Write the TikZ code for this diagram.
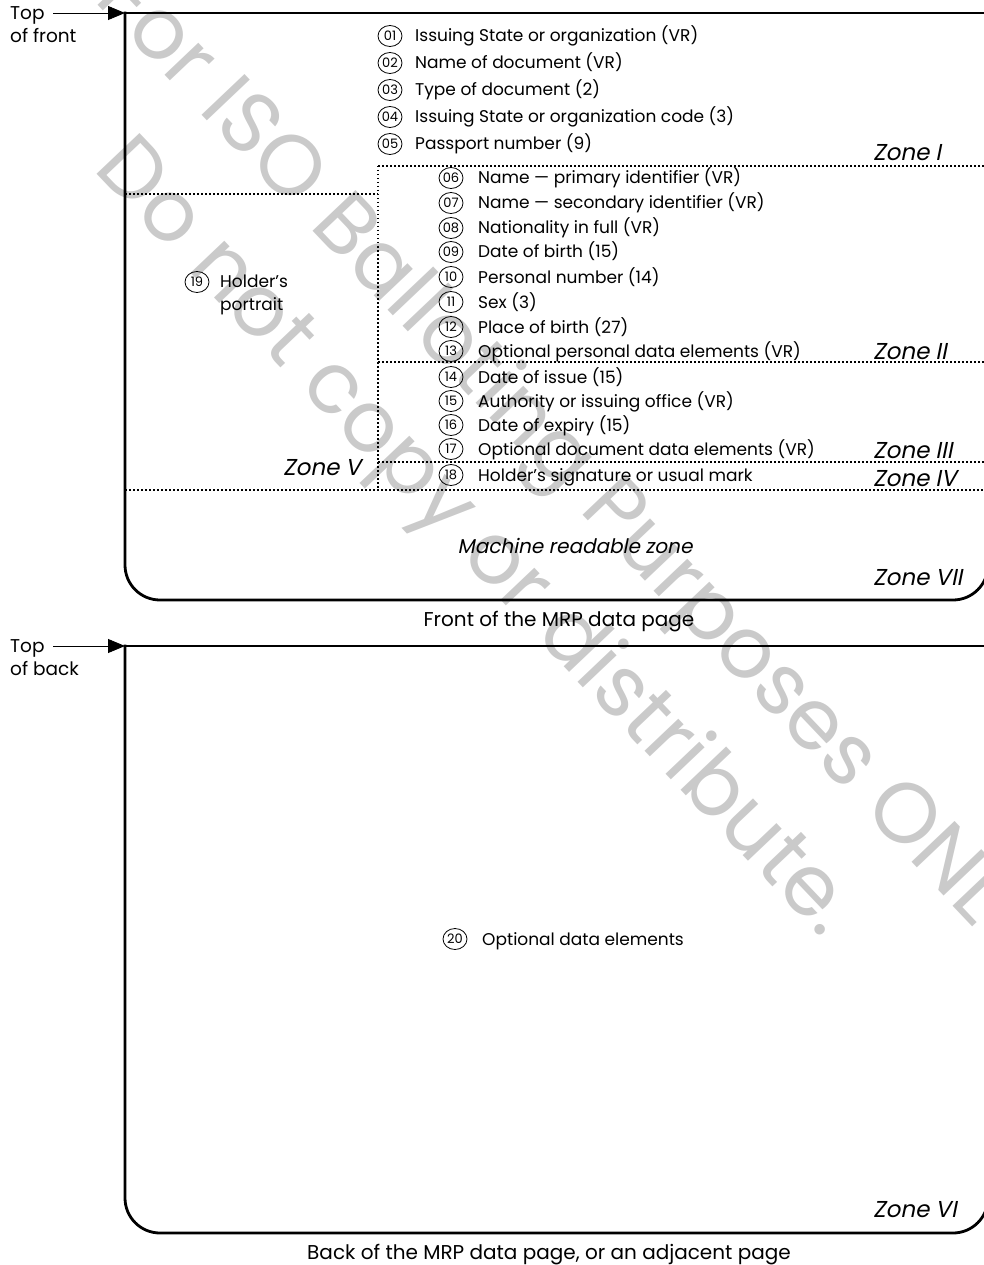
\documentclass[tikz,border=0pt]{standalone}
\usepackage{fontspec}
\setmainfont{Poppins}
\newfontfamily\zonefont{Poppins}[FakeSlant=0.2]
\usetikzlibrary{shapes.geometric,arrows.meta}
\definecolor{wmgray}{RGB}{202,202,202}
\begin{document}
\begin{tikzpicture}[x=1pt,y=-1pt,
 pageframe/.style={line width=2.8pt, line cap=rect, line join=miter},
 zoneline/.style={line width=1.5pt, dash pattern=on 1.5pt off 2.5pt},
 numbox/.style={draw, ellipse, line width=0.8pt, minimum width=24pt, minimum height=21pt, inner sep=0pt, font=\fontsize{13}{13}\selectfont},
 itemtext/.style={anchor=base west, inner sep=0pt, font=\fontsize{17}{17}\selectfont},
 zonelabel/.style={anchor=base west, inner sep=0pt, font=\zonefont\fontsize{23}{23}\selectfont},
 caption/.style={anchor=base, inner sep=0pt, font=\fontsize{20}{20}\selectfont},
 toplabel/.style={anchor=north west, inner sep=0pt, align=left, font=\fontsize{18.5}{23}\selectfont},
 watermark/.style={text=wmgray, rotate=-46.5, inner sep=0pt, font=\fontsize{85}{85}\selectfont},
 toparrow/.style={line width=0.9pt, -{Triangle[length=17pt,width=14pt]}}
]
\useasboundingbox (0,0) rectangle (984,1265);
\clip (0,0) rectangle (984,1265);
% watermark
\node[watermark] (wm1) at (572,474) {For ISO Balloting Purposes ONLY.};
\node[watermark] (wm2) at (473,540) {Do not copy or distribute.};

% ---------- front ----------
\coordinate (ftl) at (125,13);
\coordinate (fa) at (53,13);
\draw[pageframe] (988,13) -- (ftl);
\draw[pageframe, rounded corners=35pt] (ftl) -- (125,600) -- (988,600) -- (988,13);
\node[toplabel] (topf) at (10,6) {Top\\of front};
\draw[toparrow] (fa) -- (ftl);

% zone lines
\draw[zoneline] (378,166) -- (984,166);
\draw[zoneline] (378,166) -- (378,490);
\draw[zoneline] (125,194) -- (378,194);
\draw[zoneline] (378,362) -- (984,362);
\draw[zoneline] (378,462) -- (984,462);
\draw[zoneline] (125,490) -- (984,490);

% items 01-05
\foreach \n/\y/\t in {01/36/{Issuing State or organization (VR)},
                      02/63/{Name of document (VR)},
                      03/90/{Type of document (2)},
                      04/117/{Issuing State or organization code (3)},
                      05/144/{Passport number (9)}}{
  \node[numbox] (n\n) at (390,\y) {\n};
  \node[itemtext] (t\n) at (415,\y+6) {\t};
}
% items 06-18
\foreach \n/\y/\t in {06/178/{Name — primary identifier (VR)},
                      07/203/{Name — secondary identifier (VR)},
                      08/228/{Nationality in full (VR)},
                      09/252/{Date of birth (15)},
                      10/277/{Personal number (14)},
                      11/302/{Sex (3)},
                      12/327/{Place of birth (27)},
                      13/351/{Optional personal data elements (VR)},
                      14/377/{Date of issue (15)},
                      15/401/{Authority or issuing office (VR)},
                      16/425/{Date of expiry (15)},
                      17/449/{Optional document data elements (VR)},
                      18/475/{Holder’s signature or usual mark}}{
  \node[numbox] (n\n) at (451,\y) {\n};
  \node[itemtext] (t\n) at (478,\y+6) {\t};
}
% portrait
\node[numbox] (n19) at (197,282) {19};
\node[itemtext, anchor=north west, align=left, font=\fontsize{17}{23}\selectfont] (t19) at (220,275) {Holder’s\\portrait};

% zone labels
\node[zonelabel] (zI) at (873,161) {Zone I};
\node[zonelabel] (zII) at (873,359) {Zone II};
\node[zonelabel] (zIII) at (873,458) {Zone III};
\node[zonelabel] (zIV) at (873,486) {Zone IV};
\node[zonelabel] (zV) at (283,475) {Zone V};
\node[zonelabel] (zVII) at (873,585) {Zone VII};
\node[zonelabel, anchor=base, font=\zonefont\fontsize{20}{20}\selectfont] (mrz) at (575,553) {Machine readable zone};
\node[caption] (capf) at (559,626) {Front of the MRP data page};

% ---------- back ----------
\coordinate (btl) at (125,646);
\coordinate (ba) at (53,646);
\draw[pageframe] (988,646) -- (btl);
\draw[pageframe, rounded corners=35pt] (btl) -- (125,1233) -- (988,1233) -- (988,646);
\node[toplabel] (topb) at (10,639) {Top\\of back};
\draw[toparrow] (ba) -- (btl);

\node[numbox] (n20) at (455,939) {20};
\node[itemtext] (t20) at (482,945) {Optional data elements};
\node[zonelabel] (zVI) at (873,1217) {Zone VI};
\node[caption] (capb) at (549,1259) {Back of the MRP data page, or an adjacent page};
\end{tikzpicture}
\end{document}
